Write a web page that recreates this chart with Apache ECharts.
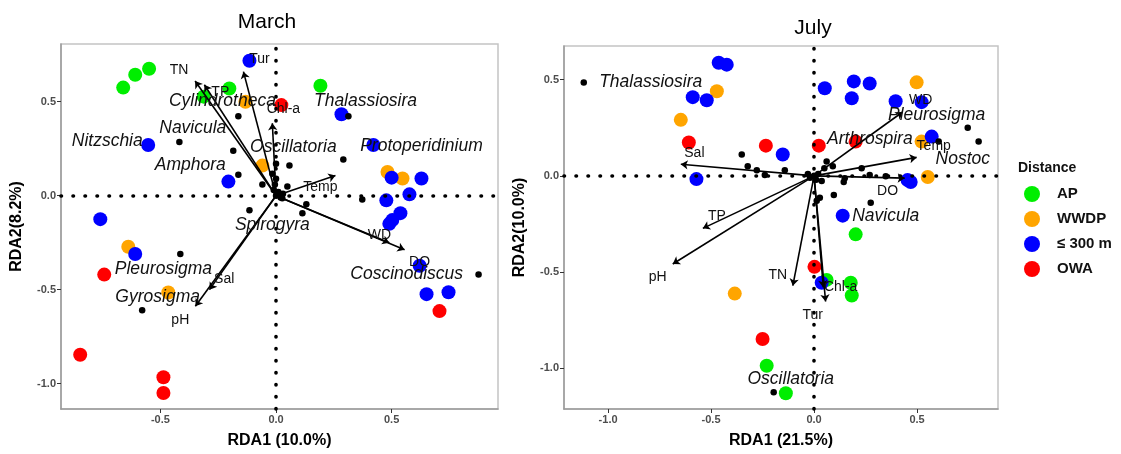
<!DOCTYPE html>
<html><head><meta charset="utf-8">
<script src="https://cdn.jsdelivr.net/npm/echarts@6/dist/echarts.min.js"></script>
<style>html,body{margin:0;padding:0;background:#fff}#c{width:1121px;height:454px}</style>
</head><body><div id="c"></div>
<script>
// ---------------- DATA ----------------
const groups = ['AP', 'WWDP', '\u2264 300 m', 'OWA'];
const xTickValues = [-1.0, -0.5, 0.0, 0.5];
const yTickValues = [-1.0, -0.5, 0.0, 0.5];

// March sample scores [RDA1, RDA2]
const marchAP   = [[-0.661,0.575],[-0.609,0.643],[-0.549,0.675],[-0.313,0.527],[-0.202,0.570],[0.192,0.585]];
const marchWWDP = [[-0.132,0.50],[-0.059,0.16],[0.482,0.126],[0.547,0.091],[-0.639,-0.272],[-0.466,-0.515]];
const marchNear = [[-0.115,0.718],[-0.553,0.27],[-0.206,0.075],[-0.76,-0.125],[-0.609,-0.31],[0.283,0.433],[0.421,0.27],[0.50,0.096],[0.629,0.091],[0.577,0.007],[0.477,-0.025],[0.538,-0.093],[0.503,-0.13],[0.49,-0.15],[0.621,-0.373],[0.651,-0.524],[0.746,-0.514]];
const marchOWA  = [[0.023,0.482],[-0.743,-0.42],[-0.847,-0.846],[-0.487,-0.966],[-0.487,-1.05],[0.707,-0.614]];
// March species scores
const marchSpecies = [[-0.418,0.286],[-0.163,0.423],[-0.185,0.239],[-0.163,0.112],[-0.115,-0.078],[-0.059,0.059],[0,0.17],[0.058,0.16],[0.049,0.049],[0.131,-0.046],[0.114,-0.093],[0.291,0.192],[0.313,0.422],[0.373,-0.02],[0.027,-0.014],[-0.414,-0.31],[-0.579,-0.61],[0.876,-0.419],[0,0],[0.01,0.02],[-0.01,0.03],[0.02,-0.01],[0.03,0.01],[-0.005,0.06],[-0.016,0.117],[0.0,0.09]];
// March environmental vectors
const marchEnvNames = ['TN','TP','Tur','Chl-a','Temp','WD','DO','Sal','pH'];
const marchEnvX = [-0.35,-0.31,-0.141,-0.016,0.257,0.49,0.556,-0.288,-0.349];
const marchEnvY = [0.61,0.59,0.66,0.385,0.107,-0.25,-0.288,-0.5,-0.588];
const marchEnvLabelX = [-0.419,-0.241,-0.072,0.032,0.192,0.447,0.621,-0.224,-0.414];
const marchEnvLabelY = [0.67,0.549,0.728,0.46,0.044,-0.209,-0.356,-0.446,-0.662];
// March species labels
const marchSpNames = ['Cylindrotheca','Navicula','Nitzschia','Amphora','Oscillatoria','Thalassiosira','Protoperidinium','Spirogyra','Pleurosigma','Gyrosigma','Coscinodiscus'];
const marchSpLabelX = [-0.232,-0.36,-0.73,-0.371,0.075,0.387,0.629,-0.016,-0.487,-0.512,0.565];
const marchSpLabelY = [0.502,0.359,0.291,0.16,0.259,0.502,0.264,-0.156,-0.393,-0.54,-0.419];

// July sample scores
const julyAP   = [[0.202,-0.304],[0.178,-0.556],[0.183,-0.622],[0.061,-0.541],[-0.23,-0.987],[-0.137,-1.13]];
const julyWWDP = [[-0.472,0.44],[-0.647,0.291],[0.498,0.486],[0.522,0.178],[0.552,-0.006],[-0.385,-0.612]];
const julyNear = [[-0.463,0.588],[-0.424,0.578],[-0.589,0.409],[-0.521,0.393],[-0.152,0.111],[-0.571,-0.017],[0.052,0.455],[0.193,0.491],[0.27,0.48],[0.183,0.403],[0.396,0.388],[0.522,0.383],[0.571,0.204],[0.454,-0.022],[0.469,-0.032],[0.139,-0.207],[0.037,-0.556]];
const julyOWA  = [[-0.608,0.173],[-0.234,0.157],[0.023,0.157],[0.202,0.178],[0.002,-0.473],[-0.25,-0.848]];
// July species scores
const julySpecies = [[-1.118,0.485],[-0.351,0.111],[-0.322,0.05],[-0.278,0.029],[-0.239,0.004],[-0.142,0.029],[-0.03,0.009],[0,0],[-0.02,-0.01],[0.02,0.01],[0.01,-0.02],[0.061,0.075],[0.091,0.05],[0.05,0.04],[0.231,0.04],[0.149,-0.012],[0.144,-0.032],[0.27,0.004],[0.348,-0.002],[0.028,-0.114],[0.013,-0.13],[0.096,-0.099],[0.275,-0.14],[0.037,-0.027],[0.746,0.25],[0.799,0.178],[0.605,0.178],[-0.196,-1.125]];
// July environmental vectors
const julyEnvNames = ['Sal','TP','pH','TN','Tur','Chl-a','WD','Temp','DO'];
const julyEnvX = [-0.647,-0.54,-0.686,-0.103,0.056,0.045,0.43,0.498,0.44];
const julyEnvY = [0.06,-0.273,-0.458,-0.571,-0.653,-0.58,0.332,0.096,-0.012];
const julyEnvLabelX = [-0.581,-0.472,-0.759,-0.176,-0.007,0.129,0.518,0.581,0.357];
const julyEnvLabelY = [0.116,-0.207,-0.525,-0.516,-0.725,-0.576,0.393,0.152,-0.079];
// July species labels
const julySpNames = ['Thalassiosira','Pleurosigma','Arthrospira','Nostoc','Navicula','Oscillatoria'];
const julySpLabelX = [-0.793,0.595,0.271,0.722,0.348,-0.113];
const julySpLabelY = [0.485,0.316,0.193,0.085,-0.211,-1.058];

// ---------------- STYLE ----------------
const FONT = '"Liberation Sans", Arial, sans-serif';
const groupColors = ['#00EE00', '#FFA500', '#0000FF', '#FF0000'];

function axisCommon(name, min, max, isY) {
  return {
    type: 'value', min: min, max: max,
    name: name, nameLocation: 'middle', nameGap: isY ? 36 : 24,
    nameTextStyle: {fontFamily: FONT, fontWeight: 'bold', fontSize: 16, color: '#000'},
    axisLine: {show: true, onZero: false, lineStyle: {color: '#9a9a9a', width: 1.5}},
    axisTick: {show: true, length: 4, lineStyle: {color: '#333', width: 1}, customValues: isY ? yTickValues : xTickValues},
    axisLabel: {show: true, margin: 5, fontFamily: FONT, fontWeight: 'bold', fontSize: 11, color: '#4d4d4d',
      customValues: isY ? yTickValues : xTickValues,
      formatter: v => Number(v).toFixed(1)},
    splitLine: {show: false}
  };
}

function panelSeries(idx, samples, species, envNames, envX, envY, envLX, envLY, spNames, spLX, spLY) {
  const s = [];
  s.push({
    type: 'scatter', xAxisIndex: idx, yAxisIndex: idx, data: [], z: 1, silent: true,
    markLine: {silent: true, symbol: 'none', label: {show: false}, animation: false,
      lineStyle: {color: '#000', type: [0.5, 11.5], width: 3.6, cap: 'round', opacity: 1},
      data: [{xAxis: 0}, {yAxis: 0}]}
  });
  samples.forEach((d, g) => {
    s.push({type: 'scatter', name: groups[g], xAxisIndex: idx, yAxisIndex: idx, data: d,
      symbol: 'circle', symbolSize: 14, z: 2, itemStyle: {color: groupColors[g], opacity: 1}});
  });
  s.push({type: 'scatter', xAxisIndex: idx, yAxisIndex: idx, data: species, symbolSize: 6.5, z: 3,
    itemStyle: {color: '#000', opacity: 1}});
  s.push({type: 'lines', coordinateSystem: 'cartesian2d', xAxisIndex: idx, yAxisIndex: idx, z: 4,
    symbol: ['none', 'arrow'], symbolSize: 7,
    lineStyle: {color: '#000', width: 1.6, opacity: 1, curveness: 0},
    data: envNames.map((n, i) => ({coords: [[0, 0], [envX[i], envY[i]]]}))});
  s.push({type: 'scatter', xAxisIndex: idx, yAxisIndex: idx, z: 5, symbolSize: 1,
    itemStyle: {color: 'rgba(0,0,0,0)', opacity: 1},
    label: {show: true, position: 'inside', formatter: '{b}', fontFamily: FONT, fontSize: 14, color: '#111', opacity: 1},
    data: envNames.map((n, i) => ({name: n, value: [envLX[i], envLY[i]]}))});
  s.push({type: 'scatter', xAxisIndex: idx, yAxisIndex: idx, z: 6, symbolSize: 1,
    itemStyle: {color: 'rgba(0,0,0,0)', opacity: 1},
    label: {show: true, position: 'inside', formatter: '{b}', fontFamily: FONT, fontSize: 17.5, fontStyle: 'italic', color: '#111', opacity: 1},
    data: spNames.map((n, i) => ({name: n, value: [spLX[i], spLY[i]]}))});
  return s;
}

const chart = echarts.init(document.getElementById('c'), null, {renderer: 'canvas'});
chart.setOption({
  animation: false,
  backgroundColor: '#fff',
  grid: [
    {left: 61, top: 44, width: 437, height: 369, show: true, borderColor: '#c4c4c4', borderWidth: 1.5},
    {left: 564, top: 46, width: 434, height: 368, show: true, borderColor: '#c4c4c4', borderWidth: 1.5}
  ],
  xAxis: [
    Object.assign(axisCommon('RDA1 (10.0%)', -0.93, 0.96, false), {gridIndex: 0}),
    Object.assign(axisCommon('RDA1 (21.5%)', -1.214, 0.893, false), {gridIndex: 1})
  ],
  yAxis: [
    Object.assign(axisCommon('RDA2(8.2%)', -1.135, 0.807, true), {gridIndex: 0}),
    Object.assign(axisCommon('RDA2(10.0%)', -1.212, 0.675, true), {gridIndex: 1})
  ],
  legend: {
    data: groups, orient: 'vertical', left: 1019, top: 181, icon: 'circle',
    itemWidth: 40, itemHeight: 16, itemGap: 9, symbolKeepAspect: true,
    textStyle: {fontFamily: FONT, fontWeight: 'bold', fontSize: 15, color: '#111'},
    selectedMode: false
  },
  graphic: [
    {type: 'text', x: 267, y: 22, style: {text: 'March', fill: '#000', font: '21px ' + FONT, align: 'center', verticalAlign: 'middle'}},
    {type: 'text', x: 813, y: 28, style: {text: 'July', fill: '#000', font: '21px ' + FONT, align: 'center', verticalAlign: 'middle'}},
    {type: 'text', x: 1018, y: 168, style: {text: 'Distance', fill: '#111', font: 'bold 14px ' + FONT, align: 'left', verticalAlign: 'middle'}}
  ],
  series: [].concat(
    panelSeries(0, [marchAP, marchWWDP, marchNear, marchOWA], marchSpecies, marchEnvNames, marchEnvX, marchEnvY, marchEnvLabelX, marchEnvLabelY, marchSpNames, marchSpLabelX, marchSpLabelY),
    panelSeries(1, [julyAP, julyWWDP, julyNear, julyOWA], julySpecies, julyEnvNames, julyEnvX, julyEnvY, julyEnvLabelX, julyEnvLabelY, julySpNames, julySpLabelX, julySpLabelY)
  )
});
</script></body></html>
